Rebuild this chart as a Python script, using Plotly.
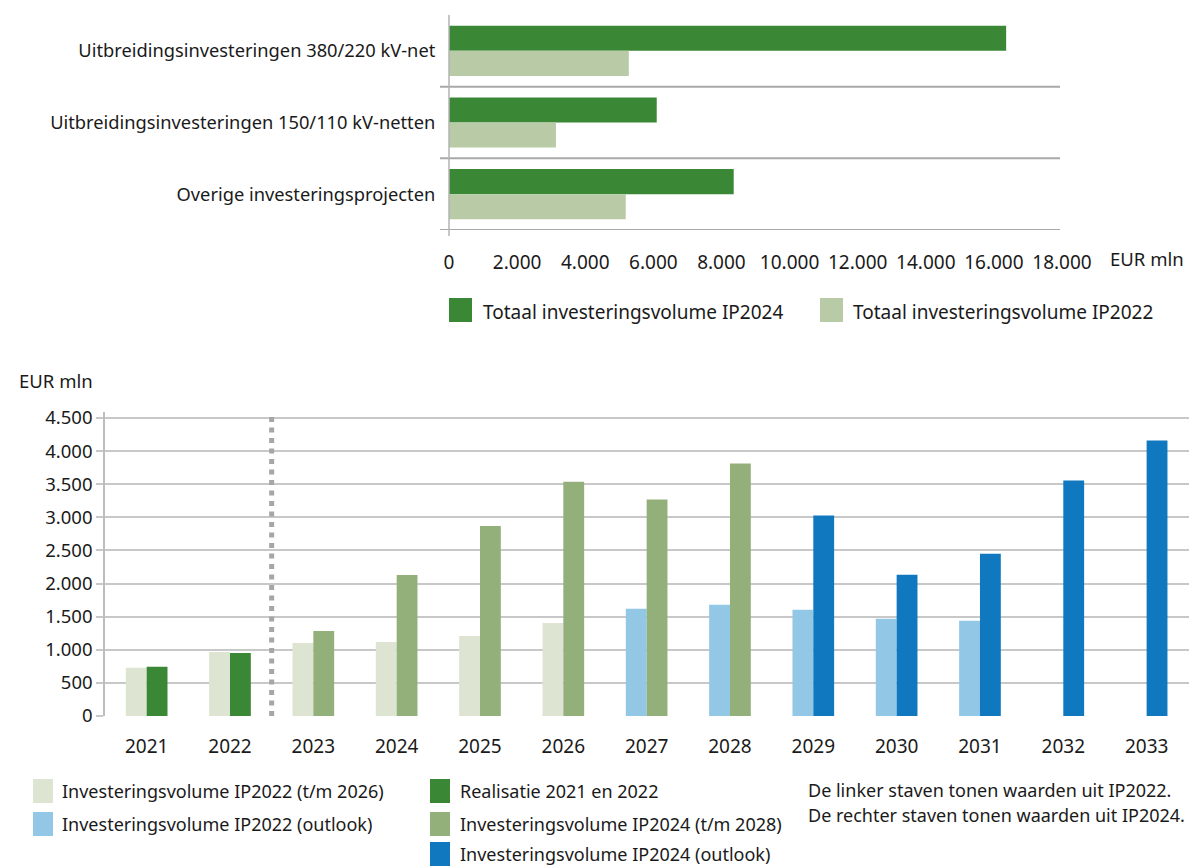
import plotly.graph_objects as go

W, H = 1189, 868

# ---------------- data ----------------
top_categories = [
    "Uitbreidingsinvesteringen 380/220 kV-net",
    "Uitbreidingsinvesteringen 150/110 kV-netten",
    "Overige investeringsprojecten",
]
top_ip2024 = [16360, 6100, 8360]
top_ip2022 = [5280, 3140, 5190]
top_series_names = ["Totaal investeringsvolume IP2024", "Totaal investeringsvolume IP2022"]
top_ticks = list(range(0, 18001, 2000))

years = [str(y) for y in range(2021, 2034)]
ip2022_plan = [730, 967, 1103, 1118, 1209, 1405, None, None, None, None, None, None, None]
ip2022_outlook = [None, None, None, None, None, None, 1619, 1679, 1604, 1468, 1437, None, None]
realisatie = [745, 951, None, None, None, None, None, None, None, None, None, None, None]
ip2024_plan = [None, None, 1284, 2130, 2870, 3535, 3268, 3813, None, None, None, None, None]
ip2024_outlook = [None, None, None, None, None, None, None, None, 3026, 2133, 2451, 3556, 4161]
bottom_ticks = list(range(0, 4501, 500))

bottom_names = [
    "Investeringsvolume IP2022 (t/m 2026)",
    "Investeringsvolume IP2022 (outlook)",
    "Realisatie 2021 en 2022",
    "Investeringsvolume IP2024 (t/m 2028)",
    "Investeringsvolume IP2024 (outlook)",
]
note_lines = [
    "De linker staven tonen waarden uit IP2022.",
    "De rechter staven tonen waarden uit IP2024.",
]

# ---------------- style ----------------
FONT = "Noto Sans"
TXT = "#1a1a1a"
DARK_GREEN = "#3a8835"
LIGHT_GREEN_TOP = "#b9cba6"
PALE = "#dde5d2"
MID_GREEN = "#93b07b"
LIGHT_BLUE = "#92c8e6"
BLUE = "#1078be"
bottom_colors = [PALE, LIGHT_BLUE, DARK_GREEN, MID_GREEN, BLUE]
bottom_side = [-1, -1, 0, 0, 0]  # left slot (IP2022) / right slot (IP2024)
bottom_values = [ip2022_plan, ip2022_outlook, realisatie, ip2024_plan, ip2024_outlook]
BAR_W = 0.25
CAT_PX = 83.33  # pixel width of one year category in the lower chart


def px(x):
    return x / W


def py(y):
    return 1 - y / H


fig = go.Figure()

# top chart
for name, vals, col in zip(top_series_names, [top_ip2024, top_ip2022], [DARK_GREEN, LIGHT_GREEN_TOP]):
    fig.add_trace(go.Bar(
        y=top_categories, x=vals, orientation="h", name=name,
        marker=dict(color=col, line=dict(width=0)),
        xaxis="x", yaxis="y", showlegend=False,
    ))

# bottom chart
for name, vals, col, side in zip(bottom_names, bottom_values, bottom_colors, bottom_side):
    fig.add_trace(go.Bar(
        x=years, y=vals, name=name, width=BAR_W, offset=side * BAR_W,
        marker=dict(color=col, line=dict(width=0)),
        xaxis="x2", yaxis="y2", showlegend=False,
    ))

shapes = []
annotations = []

# top: category separators
for i in range(len(top_categories)):
    shapes.append(dict(type="line", xref="paper", yref="y", x0=px(440), x1=px(1060),
                       y0=i + 0.5, y1=i + 0.5, line=dict(color="#a9a9a9", width=2), layer="below"))
# top: vertical axis line
shapes.append(dict(type="line", xref="paper", yref="paper", x0=px(449), x1=px(449),
                   y0=py(236), y1=py(15), line=dict(color="#b3b3b3", width=1.5)))

# bottom: dotted separator between realisation and plans
shapes.append(dict(type="line", xref="x2", yref="y2 domain", x0=1.5, x1=1.5, y0=0, y1=1,
                   line=dict(color="#a6a6a6", width=5, dash="5px,5.5px")))

# top legend
top_leg = [(449, 481, top_series_names[0], DARK_GREEN), (820, 851, top_series_names[1], LIGHT_GREEN_TOP)]
for sx, tx, name, col in top_leg:
    shapes.append(dict(type="rect", xref="paper", yref="paper", x0=px(sx), x1=px(sx + 23),
                       y0=py(322), y1=py(298), fillcolor=col, line=dict(width=0)))
    annotations.append(dict(xref="paper", yref="paper", x=px(tx), y=py(312), xanchor="left",
                            yanchor="middle", text=name, showarrow=False,
                            font=dict(size=19, color=TXT, family=FONT)))

# bottom legend
leg_pos = [(33, 60, 791), (33, 60, 824), (430, 458, 791), (430, 458, 824), (430, 458, 854)]
for (sx, tx, cy), name, col in zip(leg_pos, bottom_names, bottom_colors):
    shapes.append(dict(type="rect", xref="paper", yref="paper", x0=px(sx), x1=px(sx + 20),
                       y0=py(cy + 12), y1=py(cy - 12), fillcolor=col, line=dict(width=0)))
    annotations.append(dict(xref="paper", yref="paper", x=px(tx), y=py(cy), xanchor="left",
                            yanchor="middle", text=name, showarrow=False,
                            font=dict(size=18, color=TXT, family=FONT)))

for line, cy in zip(note_lines, [790, 815]):
    annotations.append(dict(xref="paper", yref="paper", x=px(806), y=py(cy), xanchor="left",
                            yanchor="middle", text=line, showarrow=False,
                            font=dict(size=18, color=TXT, family=FONT)))

# unit labels
annotations.append(dict(xref="paper", yref="paper", x=px(1186), y=py(258), xanchor="right",
                        yanchor="middle", text="EUR mln", showarrow=False,
                        font=dict(size=18.5, color=TXT, family=FONT)))
annotations.append(dict(xref="paper", yref="paper", x=px(17), y=py(381), xanchor="left",
                        yanchor="middle", text="EUR mln", showarrow=False,
                        font=dict(size=18.5, color=TXT, family=FONT)))

x2_left, x2_right = 105, W
fig.update_layout(
    template="none",
    width=W, height=H,
    autosize=False,
    margin=dict(l=0, r=0, t=0, b=0, pad=0, autoexpand=False),
    paper_bgcolor="white", plot_bgcolor="white",
    separators=",.",
    barmode="group",
    bargap=0.3, bargroupgap=0,
    font=dict(family=FONT, size=18, color=TXT),
    showlegend=False,
    xaxis=dict(domain=[px(449), px(1062)], range=[0, 18000], tickvals=top_ticks,
               tickformat=",d", showgrid=False, zeroline=False, showline=False,
               ticks="outside", ticklen=15, tickcolor="rgba(0,0,0,0)", anchor="y",
               tickfont=dict(size=19), automargin=False),
    yaxis=dict(domain=[py(230), py(15)], type="category", range=[2.5, -0.5],
               showgrid=False, zeroline=False, showline=False, ticks="outside",
               ticklen=9, tickcolor="rgba(0,0,0,0)", anchor="x", tickfont=dict(size=18.3),
               automargin=False),
    xaxis2=dict(domain=[px(x2_left), px(x2_right)], type="category",
                range=[-0.5, -0.5 + (x2_right - x2_left) / CAT_PX],
                showgrid=False, zeroline=False, showline=False, ticks="outside",
                ticklen=13, tickcolor="rgba(0,0,0,0)", anchor="y2", tickfont=dict(size=19),
                automargin=False),
    yaxis2=dict(domain=[py(716), py(412)], range=[0, 4590], tickvals=bottom_ticks,
                tickformat=",d", showgrid=True, gridcolor="#c8c8c8", gridwidth=2,
                zeroline=False, showline=True, linecolor="#bdbdbd", linewidth=1.5,
                ticks="outside", ticklen=7, tickcolor="#c8c8c8", tickwidth=2,
                anchor="x2", tickfont=dict(size=18.5), automargin=False),
    shapes=shapes,
    annotations=annotations,
)

# remove the default page margin so the 1189x868 figure fills the window exactly
fig.write_html(
    "out.html",
    config={"displayModeBar": False},
    post_script="document.body.style.margin = '0'; document.body.style.overflow = 'hidden';",
)
